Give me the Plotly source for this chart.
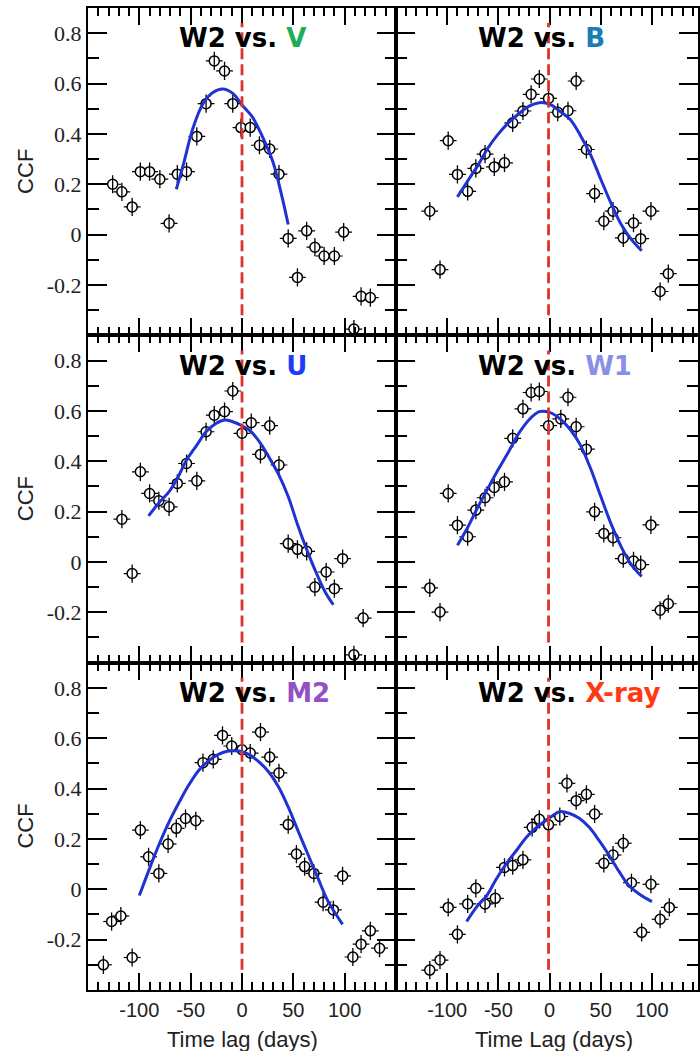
import plotly.graph_objects as go

# ---------------- CCF values (time lag in days, CCF) ----------------
v_lag = [-126, -117, -107, -99, -90, -80, -71, -63, -54, -44, -35, -27, -17, -9, -1,
         8, 17, 27, 36, 45, 54, 63, 71, 80, 90, 99, 109, 116, 125]
v_ccf = [0.20, 0.17, 0.11, 0.25, 0.25, 0.22, 0.045, 0.24, 0.25, 0.39, 0.52, 0.69, 0.65, 0.52, 0.425,
         0.425, 0.355, 0.34, 0.24, -0.015, -0.17, 0.015, -0.05, -0.085, -0.085, 0.01, -0.375, -0.245, -0.25]
v_fit_lag = [-64, -57, -48, -38, -28, -19, -9, 0, 10, 20, 30, 39, 45]
v_fit_ccf = [0.18, 0.28, 0.42, 0.52, 0.565, 0.578, 0.561, 0.515, 0.468, 0.388, 0.29, 0.15, 0.04]

b_lag = [-117, -107, -99, -90, -80, -72, -63, -54, -44, -36, -26, -18, -10, -1,
         8, 18, 26, 36, 44, 53, 62, 72, 82, 89, 99, 108, 116]
b_ccf = [0.093, -0.139, 0.373, 0.239, 0.172, 0.263, 0.32, 0.269, 0.285, 0.444, 0.491, 0.557, 0.618, 0.541,
         0.486, 0.492, 0.61, 0.338, 0.163, 0.053, 0.093, -0.013, 0.046, -0.016, 0.093, -0.226, -0.155]
b_fit_lag = [-90, -80, -70, -60, -50, -40, -30, -20, -10, 0, 10, 20, 30, 40, 50, 60, 70, 80, 90]
b_fit_ccf = [0.15, 0.213, 0.275, 0.345, 0.40, 0.445, 0.48, 0.51, 0.524, 0.518, 0.49, 0.458, 0.395,
             0.318, 0.22, 0.125, 0.04, -0.02, -0.064]

u_lag = [-117, -107, -99, -90, -81, -71, -63, -54, -44, -35, -27, -17, -9, 0,
         9, 18, 27, 36, 45, 54, 63, 71, 82, 90, 98, 109, 118]
u_ccf = [0.17, -0.046, 0.358, 0.272, 0.243, 0.219, 0.312, 0.391, 0.322, 0.517, 0.583, 0.597, 0.679, 0.511,
         0.553, 0.427, 0.541, 0.385, 0.073, 0.05, 0.042, -0.10, -0.04, -0.106, 0.013, -0.369, -0.223]
u_fit_lag = [-91, -80, -71, -63, -54, -44, -35, -25, -17, -9, 0, 9, 18, 27, 36, 45, 54, 63, 72, 81, 89]
u_fit_ccf = [0.183, 0.239, 0.279, 0.332, 0.405, 0.464, 0.517, 0.551, 0.564, 0.557, 0.541, 0.517, 0.471,
             0.411, 0.345, 0.26, 0.15, 0.05, -0.04, -0.119, -0.17]

w1_lag = [-117, -107, -99, -90, -80, -72, -63, -54, -44, -36, -26, -18, -10, -1,
          11, 18, 26, 36, 44, 53, 62, 72, 82, 89, 99, 108, 116]
w1_ccf = [-0.103, -0.199, 0.272, 0.146, 0.10, 0.206, 0.255, 0.296, 0.318, 0.491, 0.608, 0.673, 0.677, 0.541,
          0.568, 0.654, 0.537, 0.448, 0.199, 0.113, 0.096, 0.013, 0.004, -0.011, 0.147, -0.192, -0.166]
w1_fit_lag = [-90, -80, -70, -60, -50, -40, -30, -20, -10, 0, 10, 20, 30, 40, 50, 60, 70, 80, 90]
w1_fit_ccf = [0.066, 0.137, 0.218, 0.294, 0.368, 0.438, 0.511, 0.565, 0.597, 0.594, 0.569, 0.527, 0.465,
              0.372, 0.261, 0.152, 0.06, -0.012, -0.058]

m2_lag = [-135, -127, -118, -107, -99, -91, -81, -72, -64, -55, -45, -38, -28, -19, -10, 0,
          8, 18, 27, 36, 45, 53, 61, 70, 79, 89, 98, 108, 116, 125, 134]
m2_ccf = [-0.30, -0.128, -0.106, -0.271, 0.235, 0.129, 0.063, 0.18, 0.242, 0.281, 0.272, 0.503, 0.516,
          0.611, 0.569, 0.554, 0.541, 0.624, 0.525, 0.462, 0.257, 0.14, 0.09, 0.063, -0.051, -0.082,
          0.053, -0.269, -0.218, -0.165, -0.234]
m2_fit_lag = [-100, -90, -81, -71, -61, -52, -42, -32, -23, -13, -3, 6.5, 16, 26, 35.5, 45, 55, 64.5,
              74, 84, 98]
m2_fit_ccf = [-0.025, 0.083, 0.176, 0.268, 0.347, 0.413, 0.473, 0.512, 0.536, 0.549, 0.549, 0.536, 0.508,
              0.466, 0.407, 0.327, 0.228, 0.136, 0.044, -0.049, -0.139]

x_lag = [-117, -107, -99, -90, -80, -72, -63, -53, -44, -36, -26, -17, -10, -1,
         10, 17, 26, 36, 44, 53, 62, 72, 80, 90, 99, 108, 117]
x_ccf = [-0.321, -0.281, -0.072, -0.179, -0.058, 0.004, -0.058, -0.036, 0.087, 0.094, 0.117, 0.246, 0.278,
         0.256, 0.289, 0.421, 0.352, 0.377, 0.299, 0.103, 0.136, 0.183, 0.026, -0.171, 0.02, -0.119, -0.072]
x_fit_lag = [-81, -71, -61, -52, -42, -32, -23, -13, -3, 6.5, 11, 19, 29, 39, 48, 58, 68, 77, 89, 100]
x_fit_ccf = [-0.128, -0.069, -0.023, 0.041, 0.103, 0.156, 0.205, 0.245, 0.275, 0.302, 0.309, 0.302, 0.282,
             0.245, 0.196, 0.136, 0.07, 0.017, -0.023, -0.049]

# lag of the dashed reference line in each panel
ref_lag = [0, -1, 0, -1, 0, -1]

band_names = ["V", "B", "U", "W1", "M2", "X-ray"]
band_colors = ["#1eae5a", "#1a7db5", "#1c3cf6", "#8a8ee8", "#9450c4", "#ff3a12"]

y_tickvals = [-0.2, 0, 0.2, 0.4, 0.6, 0.8]
y_ticktext = ["-0.2", "0", "0.2", "0.4", "0.6", "0.8"]
x_tickvals = [-100, -50, 0, 50, 100]
x_ticktext = ["-100", "-50", "0", "50", "100"]
x_titles = ["Time lag (days)", "Time Lag (days)"]

panels = [
    (v_lag, v_ccf, v_fit_lag, v_fit_ccf),
    (b_lag, b_ccf, b_fit_lag, b_fit_ccf),
    (u_lag, u_ccf, u_fit_lag, u_fit_ccf),
    (w1_lag, w1_ccf, w1_fit_lag, w1_fit_ccf),
    (m2_lag, m2_ccf, m2_fit_lag, m2_fit_ccf),
    (x_lag, x_ccf, x_fit_lag, x_fit_ccf),
]

# ---------------- layout geometry ----------------
W, H = 700, 1051
ML, MR, MT, MB = 88, 0, 8, 61
plot_w = W - ML - MR
plot_h = H - MT - MB
split = (397 - ML) / plot_w
col_dom = [[0, split], [split, 1]]
col_range = [[-150, 150], [-150, 145]]
row_dom = [[2 / 3, 1], [1 / 3, 2 / 3], [0, 1 / 3]]

BLUE = "#1f33d2"
RED = "#e0302a"

fig = go.Figure()
layout = dict(
    width=W, height=H,
    margin=dict(l=ML, r=MR, t=MT, b=MB),
    paper_bgcolor="white", plot_bgcolor="white",
    showlegend=False,
    shapes=[], annotations=[],
)

for i, (lag, ccf, flag, fccf) in enumerate(panels):
    r, c = divmod(i, 2)
    s = "" if i == 0 else str(i + 1)
    xa, ya = "x" + s, "y" + s

    # short side ticks, open body, then vertical bar of each point
    fig.add_trace(go.Scatter(
        x=lag, y=ccf, xaxis=xa, yaxis=ya, mode="markers", hoverinfo="skip",
        marker=dict(symbol="line-ew", size=12, line=dict(color="black", width=1.2))))
    fig.add_trace(go.Scatter(
        x=lag, y=ccf, xaxis=xa, yaxis=ya, mode="markers",
        marker=dict(symbol="circle", size=10, color="white", line=dict(color="black", width=1.5))))
    fig.add_trace(go.Scatter(
        x=lag, y=ccf, xaxis=xa, yaxis=ya, mode="markers", hoverinfo="skip",
        marker=dict(symbol="line-ns", size=13, line=dict(color="black", width=1.3))))
    # fitted curve
    fig.add_trace(go.Scatter(
        x=flag, y=fccf, xaxis=xa, yaxis=ya, mode="lines",
        line=dict(color=BLUE, width=3, shape="spline", smoothing=1.0)))

    bottom = (r == 2)
    left = (c == 0)
    layout["xaxis" + s] = dict(
        domain=col_dom[c], anchor=ya, range=col_range[c],
        showgrid=False, zeroline=False,
        showline=True, linecolor="black", linewidth=2, mirror="ticks",
        ticks="inside", ticklen=17, tickwidth=1.5, tickcolor="black",
        tickmode="array", tickvals=x_tickvals, ticktext=x_ticktext,
        minor=dict(ticks="inside", ticklen=8, tickwidth=1.5, tickcolor="black",
                   tickmode="linear", tick0=0, dtick=10, showgrid=False),
        showticklabels=bottom, ticklabelstandoff=1,
        tickfont=dict(family="Liberation Sans", size=20, color="#222"),
    )
    layout["yaxis" + s] = dict(
        domain=row_dom[r], anchor=xa, range=[-0.4, 0.9],
        showgrid=False, zeroline=False,
        showline=True, linecolor="black", linewidth=2, mirror="ticks",
        ticks="inside", ticklen=19, tickwidth=1.5, tickcolor="black",
        tickmode="array", tickvals=y_tickvals, ticktext=y_ticktext,
        minor=dict(ticks="inside", ticklen=11, tickwidth=1.5, tickcolor="black",
                   tickmode="linear", tick0=0, dtick=0.1, showgrid=False),
        showticklabels=left, ticklabelstandoff=0,
        tickfont=dict(family="Liberation Serif", size=22, color="#222"),
    )

    # dashed zero-lag reference
    layout["shapes"].append(dict(
        type="line", xref=xa, yref=ya, x0=ref_lag[i], x1=ref_lag[i], y0=-0.32, y1=0.84,
        line=dict(color=RED, width=2.8, dash="11px,5px"), layer="above"))

    # panel label
    layout["annotations"].append(dict(
        xref=xa, yref=ya, x=-63 if left else -72, y=0.78, xanchor="left", yanchor="middle",
        showarrow=False,
        text="<b>W2 vs. <span style='color:%s'>%s</span></b>" % (band_colors[i], band_names[i]),
        font=dict(family="DejaVu Sans", size=26, color="black")))

    if left:
        layout["annotations"].append(dict(
            xref="paper", yref=ya, x=(25 - ML) / plot_w, y=0.25, xanchor="center", yanchor="middle",
            textangle=-90, showarrow=False, text="CCF",
            font=dict(family="Liberation Sans", size=22, color="#222")))
    if bottom:
        layout["annotations"].append(dict(
            xref=xa, yref="paper", x=0 if left else 4, y=-(1039 - (H - MB)) / plot_h,
            xanchor="center", yanchor="middle", showarrow=False, text=x_titles[c],
            font=dict(family="Liberation Sans", size=22, color="#222")))

fig.update_layout(**layout)
fig.write_html("out.html")
